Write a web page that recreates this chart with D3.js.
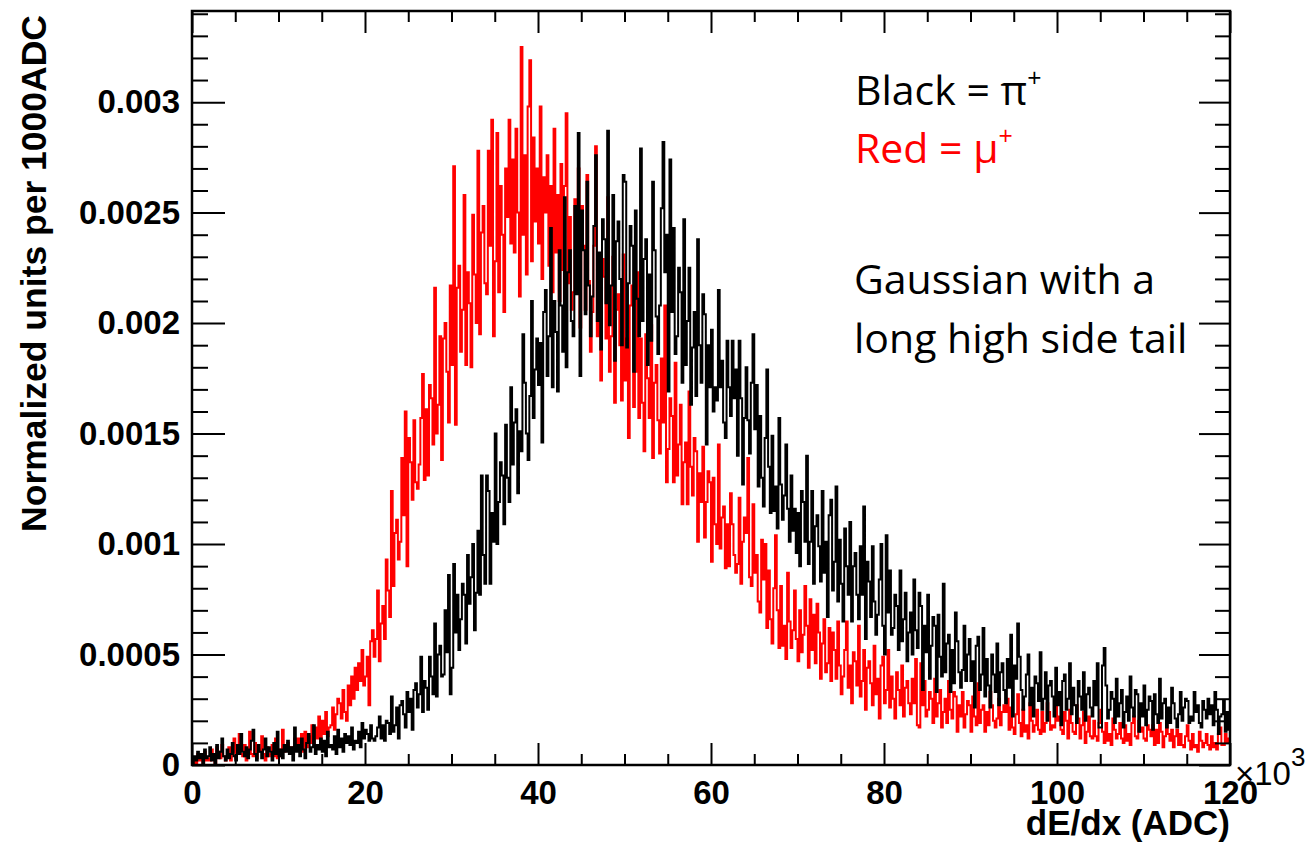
<!DOCTYPE html>
<html>
<head>
<meta charset="utf-8">
<script src="https://cdn.jsdelivr.net/npm/d3@7"></script>
<style>
  html, body { margin: 0; padding: 0; background: #fff; }
  svg { display: block; }
</style>
</head>
<body>
<div id="chart"></div>
<script>
// histogram binning (x in units of 10^3 ADC)
const xMin = 0;
const xMax = 120;
const nBins = 600;
const valueUnit = 1e-5;   // counts below are in units of 1e-5

// pi+ (black), 200 ADC bins
const pionCounts = [
  0,4,2,6,3, 5,0,7,3,4, 8,2,5,0,9, 3,6,12,4,2, 7,3,5,10,4,
  2,9,5,14,6, 4,8,3,7,11, 16,5,2,9,6, 3,7,12,4,8, 6,2,10,5,15,
  4,7,3,9,6, 11,5,8,2,17, 6,9,4,12,7, 3,10,14,6,8, 18,5,9,7,12,
  6,11,4,15,8, 9,7,13,5,16, 8,12,6,14,10, 13,9,17,7,11, 10,15,8,19,12,
  16,14,11,18,12, 11,13,17,22,12, 18,11,20,19,14, 31,15,18,26,12, 27,29,23,17,33,
  24,30,16,34,37, 26,32,49,24,38, 35,25,49,40,32, 64,31,50,54,40, 41,70,51,86,32,
  44,91,60,77,52, 66,82,77,55,95, 73,85,100,61,78, 106,77,131,95,82, 131,124,82,114,101,
  150,100,119,137,131, 109,154,130,119,171, 136,155,161,123,151, 142,195,173,150,138, 167,210,157,179,193,
  172,191,146,205,215, 176,194,243,171,210, 196,169,233,208,187, 257,180,223,233,201, 194,253,213,286,176,
  251,233,204,264,217, 194,212,244,276,201, 232,188,247,238,209, 287,199,217,258,183, 237,246,220,190,267,
  264,189,218,244,235, 178,251,211,194,279, 201,229,238,181,222, 192,264,233,203,186, 208,252,282,223,240,
  169,274,205,243,186, 194,225,214,173,247, 181,201,225,163,189, 205,167,238,190,173, 213,204,145,190,171,
  197,160,171,165,215, 171,183,155,148,192, 171,158,192,166,179, 140,192,166,127,157, 180,156,141,173,195,
  152,172,126,158,130, 117,148,179,135,114, 149,115,126,107,157, 127,111,122,145,116, 101,131,106,116,96,
  114,90,124,119,101, 140,91,101,124,82, 108,113,99,83,124, 87,101,67,113,120, 79,92,126,74,102,
  82,65,107,90,77, 110,65,90,96,77, 66,99,77,117,57, 92,83,67,99,74, 59,68,84,100,63,
  50,104,69,88,59, 62,77,72,52,88, 56,66,78,47,60, 69,50,84,61,53, 78,72,34,63,51,
  77,39,54,67,63, 33,68,49,40,82, 42,55,59,33,52, 37,69,56,42,35, 43,63,38,50,57,
  38,47,26,54,58, 34,41,62,31,48, 36,26,50,41,33, 55,27,42,46,34, 28,48,35,59,22,
  45,39,64,49,34, 25,31,41,50,27, 35,22,40,37,29, 51,25,30,42,20, 36,38,31,22,44,
  27,33,18,38,41, 25,30,46,23,35, 27,19,38,31,25, 42,20,32,35,26, 22,38,27,46,17,
  17,45,53,36,21, 25,33,30,19,39, 22,28,34,17,24, 31,20,40,26,22, 34,32,15,28,22,
  36,18,25,31,29, 16,32,23,19,39, 21,28,30,17,26, 19,35,28,21,17, 23,33,20,26,30,
  29,19,22,20,33, 24,27,19,17,29, 25,21,30,23,27, 18,33,25,14,22, 23,29,15,24,16
];

// mu+ (red), 200 ADC bins
const muonCounts = [
  0,3,0,5,2, 4,0,6,2,3, 2,7,3,0,8, 6,3,9,4,2, 4,8,2,6,12,
  3,7,14,5,4, 9,2,6,15,5, 4,10,3,7,6, 13,5,2,8,4, 5,9,4,12,3,
  7,4,16,6,9, 10,6,8,5,12, 7,12,9,14,6, 15,8,13,10,18, 10,17,12,22,11,
  20,14,24,13,17, 18,26,16,23,30, 28,21,34,24,20, 36,27,40,30,44, 34,46,38,52,36,
  40,49,27,56,61, 49,57,79,47,64, 72,57,93,79,67, 124,81,105,111,93, 101,139,113,160,90,
  148,137,120,156,128, 125,136,157,177,129, 161,131,172,166,145, 216,150,163,194,138, 193,200,178,155,217,
  181,271,154,216,226, 187,206,258,181,223, 209,180,249,222,200, 278,195,241,253,218, 213,278,235,292,194,
  228,286,214,262,240, 205,270,248,292,236, 274,232,288,250,212, 325,240,276,222,298, 319,228,284,246,270,
  236,298,220,266,250, 276,226,262,214,288, 232,258,210,272,224, 262,295,218,248,206, 214,256,228,270,198,
  253,235,206,267,219, 187,205,235,280,194, 214,174,229,221,193, 257,178,194,230,164, 206,213,190,165,231,
  174,193,148,208,217, 162,178,223,157,193, 164,142,195,175,157, 199,139,173,181,156, 141,184,155,208,128,
  143,166,158,128,182, 131,145,163,118,137, 146,118,169,135,122, 148,142,101,132,119, 144,103,119,133,128,
  92,130,109,100,145, 98,112,117,89,109, 90,123,109,95,87, 91,121,82,101,112, 105,139,85,81,118,
  87,95,74,69,102, 84,100,62,88,66, 55,80,104,70,53, 81,54,63,48,87, 65,53,61,79,57,
  47,70,51,59,81, 63,44,75,52,68, 46,73,60,39,55, 66,42,46,62,38, 60,52,39,65,45,
  32,40,52,65,35, 45,28,51,47,36, 63,31,38,52,25, 44,47,37,27,54, 32,39,21,45,49,
  28,34,52,26,40, 30,21,42,34,27, 45,22,35,38,28, 23,39,28,48,18, 17,46,27,38,22,
  25,33,30,19,39, 22,28,34,17,24, 30,19,38,25,21, 33,31,15,27,22, 33,17,23,29,27,
  15,31,22,18,37, 19,25,27,15,24, 18,33,27,20,17, 21,30,18,24,27, 24,30,16,26,17,
  14,23,32,19,13, 25,15,18,12,28, 20,15,18,25,16, 14,24,15,19,28, 24,16,18,17,27,
  20,22,16,14,24, 20,12,25,19,15, 14,27,21,12,18, 24,10,15,22,13, 12,20,13,11,19,
  25,15,10,19,11, 14,9,21,16,12, 14,19,12,10,18, 11,14,9,19,22, 13,12,20,15,17,
  12,11,18,16,13, 18,9,16,10,19, 15,8,13,18,14, 11,16,8,13,16, 9,14,9,8,13,
  18,11,7,14,8, 9,6,15,11,8, 10,14,9,7,13, 8,10,7,14,17, 9,9,14,10,12
];

const yMajorTicks = [0, 0.0005, 0.001, 0.0015, 0.002, 0.0025, 0.003];
const xMajorTicks = [0, 20, 40, 60, 80, 100, 120];
const legendLines = [
  { text: "Black = \u03c0", sup: "+", color: "#000000" },
  { text: "Red = \u03bc", sup: "+", color: "#ff0000" }
];
const noteLines = ["Gaussian with a", "long high side tail"];

const width = 1313, height = 843;
const margin = { top: 11, right: 83, bottom: 78, left: 192 };
const innerWidth = width - margin.left - margin.right;
const innerHeight = height - margin.top - margin.bottom;

const svg = d3.select("#chart").append("svg")
    .attr("width", width)
    .attr("height", height);

const g = svg.append("g")
    .attr("transform", `translate(${margin.left},${margin.top})`);

const yMax = d3.max(pionCounts.concat(muonCounts)) * valueUnit * 1.05;

const x = d3.scaleLinear().domain([xMin, xMax]).range([0, innerWidth]);
const y = d3.scaleLinear().domain([0, yMax]).range([innerHeight, 0]);

const binW = (xMax - xMin) / nBins;

// step path like ROOT's HIST option
function histPoints(counts) {
    const pts = counts.map((c, i) => [xMin + i * binW, c * valueUnit]);
    pts.push([xMax, counts[counts.length - 1] * valueUnit]);
    return pts;
}

const line = d3.line()
    .x(d => x(d[0]))
    .y(d => y(d[1]))
    .curve(d3.curveStepAfter);

svg.append("defs").append("clipPath")
    .attr("id", "plot-clip")
    .append("rect")
    .attr("width", innerWidth)
    .attr("height", innerHeight);

const plot = g.append("g").attr("clip-path", "url(#plot-clip)");

plot.append("path")
    .datum(histPoints(muonCounts))
    .attr("fill", "none")
    .attr("stroke", "#ff0000")
    .attr("stroke-width", 2)
    .attr("d", line);

plot.append("path")
    .datum(histPoints(pionCounts))
    .attr("fill", "none")
    .attr("stroke", "#000000")
    .attr("stroke-width", 2)
    .attr("d", line);

// minor tick values
const yMinorTicks = d3.range(0, yMax, 0.0001).filter(v => Math.round(v * 1e4) % 5 !== 0);
const xMinorTicks = d3.range(5, xMax, 5).filter(v => v % 20 !== 0);

function tickAxis(axis, values, size) {
    return axis.tickValues(values).tickSize(size).tickFormat("");
}

function styleTicks(sel) {
    sel.select(".domain").remove();
    sel.selectAll("text").remove();
    sel.selectAll("line").attr("stroke", "#000").attr("stroke-width", 2);
}

// left + right ticks, pointing inward
g.append("g").call(tickAxis(d3.axisRight(y), yMajorTicks, 33)).call(styleTicks);
g.append("g").call(tickAxis(d3.axisRight(y), yMinorTicks, 16)).call(styleTicks);
g.append("g").attr("transform", `translate(${innerWidth},0)`)
    .call(tickAxis(d3.axisLeft(y), yMajorTicks, 31)).call(styleTicks);
g.append("g").attr("transform", `translate(${innerWidth},0)`)
    .call(tickAxis(d3.axisLeft(y), yMinorTicks, 15)).call(styleTicks);

// bottom + top ticks
g.append("g").attr("transform", `translate(0,${innerHeight})`)
    .call(tickAxis(d3.axisTop(x), xMajorTicks, 22)).call(styleTicks);
g.append("g").attr("transform", `translate(0,${innerHeight})`)
    .call(tickAxis(d3.axisTop(x), xMinorTicks, 11)).call(styleTicks);
g.append("g")
    .call(tickAxis(d3.axisBottom(x), xMajorTicks, 22)).call(styleTicks);
g.append("g")
    .call(tickAxis(d3.axisBottom(x), xMinorTicks, 11)).call(styleTicks);

// tick labels
const labelFont = "'Liberation Sans', Arial, Helvetica, sans-serif";

function styleLabels(sel) {
    sel.select(".domain").remove();
    sel.attr("font-family", labelFont)
        .attr("font-size", 33)
        .attr("font-weight", "bold");
    sel.selectAll("text").attr("fill", "#000");
}

g.append("g")
    .call(d3.axisLeft(y).tickValues(yMajorTicks).tickSize(0).tickPadding(12)
        .tickFormat(d => d === 0 ? "0" : String(+d.toFixed(4))))
    .call(styleLabels);

g.append("g")
    .attr("transform", `translate(0,${innerHeight})`)
    .call(d3.axisBottom(x).tickValues(xMajorTicks).tickSize(0).tickPadding(16)
        .tickFormat(d3.format("d")))
    .call(styleLabels);

// frame
g.append("rect")
    .attr("width", innerWidth)
    .attr("height", innerHeight)
    .attr("fill", "none")
    .attr("stroke", "#000")
    .attr("stroke-width", 2.5);

// x10^3 exponent
const expo = svg.append("text")
    .attr("x", margin.left + innerWidth + 5)
    .attr("y", margin.top + innerHeight + 20)
    .attr("font-family", labelFont)
    .attr("font-size", "33px")
    .attr("fill", "#000");
expo.append("tspan").text("\u00d710");
expo.append("tspan").attr("dy", -19).attr("font-size", "26px").text("3");

// axis titles
svg.append("text")
    .attr("x", margin.left + innerWidth)
    .attr("y", 835)
    .attr("text-anchor", "end")
    .attr("font-family", labelFont)
    .attr("font-weight", "bold")
    .attr("font-size", "35px")
    .text("dE/dx (ADC)");

svg.append("text")
    .attr("transform", "translate(46,15) rotate(-90)")
    .attr("text-anchor", "end")
    .attr("font-family", labelFont)
    .attr("font-weight", "bold")
    .attr("font-size", "35.5px")
    .text("Normalized units per 1000ADC");

// legend text
const noteFont = "'Open Sans', Lato, sans-serif";
legendLines.forEach((d, i) => {
    const t = svg.append("text")
        .attr("x", 855)
        .attr("y", 105 + i * 58)
        .attr("font-family", noteFont)
        .attr("font-size", "41px")
        .attr("fill", d.color);
    t.append("tspan").text(d.text);
    t.append("tspan").attr("dy", -18).attr("font-size", "25px").text(d.sup);
});

noteLines.forEach((s, i) => {
    svg.append("text")
        .attr("x", 854)
        .attr("y", 294 + i * 59)
        .attr("font-family", noteFont)
        .attr("font-size", "41px")
        .attr("fill", "#000")
        .text(s);
});
</script>
</body>
</html>
